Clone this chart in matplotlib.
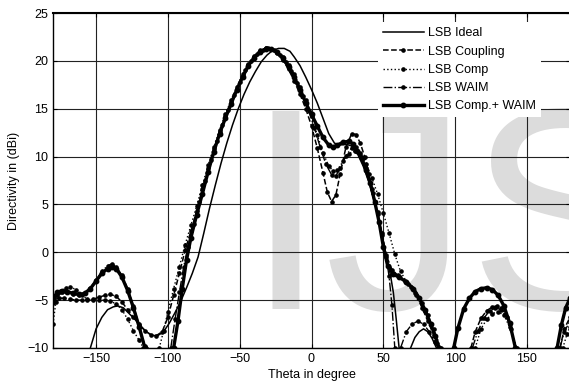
import numpy as np
import matplotlib
matplotlib.use('Agg')
import matplotlib.pyplot as plt

plt.rcParams['font.family'] = ['Liberation Sans', 'DejaVu Sans']
nan = np.nan

# LSB Ideal
theta_ideal = [-154, -150, -146, -142, -138, -135, -131, -127, -123, -119, -115, -111, -107, -103, -99, -95,
               -91, -87, -83, -79, -75, -71, -67, -63, -59, -55, -51, -47, -43, -39, -35, -31, -27, -23,
               -19, -15, -12, -8, -4, 0, 4, 8, 12, 16, 20, 24, 28, 32, 36, 40, 44, 48, 52, 55, 57, 59, 61,
               nan, 69, 72, 75, 78, 81, 84, 87]
d_ideal = [-10, -8.0, -6.8, -6.0, -5.7, -5.6, -5.8, -6.4, -7.0, -7.7, -8.3, -8.7, -8.7, -8.3, -7.4, -6.3,
           -5.1, -3.7, -2.2, -0.5, 2.0, 4.6, 7.0, 9.3, 11.4, 13.3, 15.0, 16.5, 17.8, 18.9, 19.9, 20.6, 21.1, 21.3,
           21.3, 21.0, 20.4, 19.5, 18.3, 17.0, 15.6, 14.0, 12.4, 11.4, 11.2, 11.3, 11.1, 10.3, 9.0, 7.3, 5.2, 2.6,
           -0.3, -2.4, -4.2, -7.0, -10,
           nan, -10, -8.9, -8.3, -8.0, -8.3, -9.0, -10]

# LSB Coupling
theta_coup = [-180, -176, -172, -168, -164, -160, -156, -152, -148, -144, -140, -136, -132, -128, -124, -120,
              -116, -112, -108, -104, -100, -96, -92, -88, -84, -80, -76, -72, -68, -64, -60, -56, -52, -48,
              -44, -40, -36, -32, -28, -24, -20, -16, -12, -8, -4, 0, 4, 8, 11, 14, 17, 20, 24, 28, 31, 34,
              37, 40, 43, 46, 49, 52, 56, 60, 65, 69, 73, 77, 81, 85, 88,
              nan, 111, 114, 118, 122, 126, 129, 132, 135, 138, 142, nan, 173, 176, 180]
d_coup = [-5.0, -4.8, -4.8, -4.9, -5.0, -5.0, -5.0, -4.9, -4.7, -4.5, -4.4, -4.6, -5.2, -6.0, -6.8, -7.5,
          -8.2, -8.6, -8.7, -8.3, -6.8, -4.5, -2.2, 0.2, 2.2, 4.3, 6.6, 8.8, 10.8, 12.6, 14.2, 15.7, 17.1, 18.4,
          19.6, 20.4, 21.0, 21.3, 21.2, 20.8, 20.1, 19.1, 17.9, 16.5, 15.0, 13.2, 10.9, 8.3, 6.3, 5.3, 6.0, 8.2,
          11.0, 12.4, 12.3, 11.4, 10.0, 8.2, 6.2, 4.0, 1.8, -0.3, -1.8, -2.4, -3.0, -3.6, -4.5, -5.8, -7.2,
          -8.6, -10,
          nan, -10, -8.3, -6.9, -6.1, -5.7, -5.6, -5.8, -6.4, -7.5, -10, nan, -10, -8.0, -6.8]

# LSB Comp
theta_comp = [-180, -178, -175, -171, -168, -164, -160, -156, -152, -148, -144, -140, -136, -132, -128, -124,
              -120, -117, nan, -106, -103, -100, -96, -92, -88, -84, -80, -76, -72, -68, -64, -60, -56, -52,
              -48, -44, -40, -36, -32, -28, -24, -20, -16, -12, -8, -4, 0, 4, 8, 12, 15, 18, 22, 26, 30, 34,
              38, 42, 46, 50, 54, 58, 62, 67, 72, 77, 81, 85, 90,
              nan, 114, 118, 122, 126, 130, 134, 138, 143, nan, 175, 178, 180]
d_comp = [-7.5, -5.2, -4.2, -3.7, -3.6, -3.9, -4.5, -4.9, -5.0, -5.0, -5.0, -5.1, -5.4, -6.0, -7.0, -8.2,
          -9.2, -10, nan, -10, -8.2, -6.2, -3.8, -1.5, 0.8, 2.8, 4.8, 7.0, 9.1, 11.0, 12.8, 14.4, 15.9, 17.3,
          18.6, 19.7, 20.5, 21.1, 21.3, 21.2, 20.9, 20.4, 19.6, 18.6, 17.3, 15.9, 14.2, 12.3, 10.4, 9.0, 8.5,
          8.6, 9.5, 10.3, 10.6, 10.2, 9.2, 7.8, 6.1, 4.1, 2.0, -0.2, -2.0, -3.3, -4.3, -5.3, -6.5, -8.0, -10,
          nan, -10, -8.0, -7.0, -6.4, -6.2, -6.6, -7.8, -10, nan, -10, -8.5, -7.8]

# LSB WAIM
theta_waim = [-180, -177, -174, -170, -166, -162, -158, -154, -150, -146, -142, -139, -136, -132, -128, -124,
              -120, -116, -115, nan, -98, -95, -92, -89, -86, -82, -78, -74, -70, -66, -62, -58, -54, -50,
              -46, -42, -38, -34, -30, -26, -22, -18, -14, -10, -6, -2, 2, 6, 10, 14, 17, 20, 24, 28, 31, 34,
              38, 42, 46, 49, 52, 54, 56, 58,
              nan, 62, 66, 70, 74, 78, 82, 86, 88,
              nan, 112, 116, 120, 124, 128, 132, 136, 139, 142, nan, 173, 176, 180]
d_waim = [-5.3, -4.5, -4.2, -4.2, -4.4, -4.5, -4.3, -3.7, -2.9, -2.0, -1.4, -1.2, -1.5, -2.4, -3.8, -5.6,
          -7.6, -9.8, -10, nan, -10, -7.0, -4.2, -1.5, 0.6, 3.0, 5.3, 7.5, 9.6, 11.6, 13.3, 14.9, 16.4, 17.8,
          19.0, 20.0, 20.7, 21.1, 21.3, 21.1, 20.6, 19.9, 18.9, 17.7, 16.3, 14.8, 13.0, 11.0, 9.2, 8.1, 8.0,
          8.8, 10.1, 10.9, 11.0, 10.4, 8.8, 6.6, 4.2, 2.0, -0.5, -2.5, -5.5, -10,
          nan, -10, -8.3, -7.5, -7.2, -7.5, -8.3, -9.4, -10,
          nan, -10, -8.2, -6.9, -6.1, -5.8, -6.0, -6.8, -8.0, -10, nan, -10, -8.3, -7.2]

# LSB Comp.+ WAIM
theta_cw = [-180, -177, -174, -170, -166, -162, -158, -154, -150, -146, -142, -139, -136, -132, -128, -124,
            -120, -116, nan, -96, -93, -90, -87, -84, -80, -76, -72, -68, -64, -60, -56, -52, -48, -44, -40,
            -36, -32, -28, -24, -20, -16, -12, -8, -4, 0, 4, 8, 12, 15, 18, 22, 26, 29, 32, 35, 38, 41, 44,
            47, 50, 53, 57, 61, 66, 71, 75, 79, 83, 86, 89,
            nan, 99, 102, 106, 110, 114, 118, 122, 126, 130, 134, 138, 142, nan, 171, 174, 177, 180]
d_cw = [-4.8, -4.2, -4.0, -4.1, -4.3, -4.4, -4.3, -3.8, -3.0, -2.2, -1.7, -1.5, -1.7, -2.6, -4.0, -5.8,
        -7.8, -10, nan, -10, -7.2, -3.8, -0.8, 1.5, 3.9, 6.1, 8.4, 10.5, 12.4, 14.0, 15.5, 17.0, 18.3, 19.5,
        20.3, 20.9, 21.2, 21.2, 20.9, 20.3, 19.4, 18.3, 17.0, 15.6, 14.4, 13.2, 12.0, 11.2, 11.0, 11.2, 11.5,
        11.6, 11.3, 10.6, 9.8, 8.6, 7.2, 5.3, 3.2, 0.6, -1.4, -2.3, -2.6, -3.1, -3.8, -4.8, -6.0, -7.5, -8.7,
        -10,
        nan, -10, -7.9, -5.9, -4.8, -4.1, -3.8, -3.7, -3.9, -4.5, -5.6, -7.4, -10, nan, -10, -7.6, -5.8, -4.8]

fig = plt.figure(figsize=(5.69, 3.85), dpi=100)
ax = fig.add_axes([53 / 569, 1 - 348 / 385, 517 / 569, 335 / 385])

# watermark
ax.text(245 / 569, 1 - 309 / 385, 'IJS', transform=fig.transFigure, fontsize=207,
        color='#dcdcdc', ha='left', va='baseline', zorder=1, family='Liberation Sans')

ax.plot(theta_ideal, d_ideal, '-', color='k', lw=1.1, label='LSB Ideal', zorder=3)
ax.plot(theta_coup, d_coup, '--', color='k', lw=1.1, marker='o', ms=2.3, label='LSB Coupling', zorder=3)
ax.plot(theta_comp, d_comp, ':', color='k', lw=1.0, marker='o', ms=2.3, label='LSB Comp', zorder=3)
ax.plot(theta_waim, d_waim, '-.', color='k', lw=1.0, marker='o', ms=2.3, label='LSB WAIM', zorder=3)
ax.plot(theta_cw, d_cw, '-', color='k', lw=2.4, marker='o', ms=3.2, label='LSB Comp.+ WAIM', zorder=4)

ax.set_xlim(-180, 180)
ax.set_ylim(-10, 25)
ax.set_xticks([-150, -100, -50, 0, 50, 100, 150])
ax.set_yticks([-10, -5, 0, 5, 10, 15, 20, 25])
ax.grid(True, color='#222222', lw=0.8, zorder=2)
ax.tick_params(direction='in', top=True, right=True, labelsize=9, length=3, colors='k')
for s in ax.spines.values():
    s.set_linewidth(1.0)
ax.spines['top'].set_linewidth(1.5)

ax.set_xlabel('Theta in degree', fontsize=9, labelpad=3)
ax.set_ylabel('Directivity in (dBi)', fontsize=9, labelpad=5)

leg = ax.legend(loc='upper right', bbox_to_anchor=(0.943, 0.972), borderaxespad=0, fontsize=9,
                handlelength=3.3, handletextpad=0.3, labelspacing=0.5, numpoints=1,
                frameon=True, fancybox=False, framealpha=1)
leg.get_frame().set_edgecolor('none')
leg.set_zorder(5)

fig.savefig('out.png', dpi=100)
